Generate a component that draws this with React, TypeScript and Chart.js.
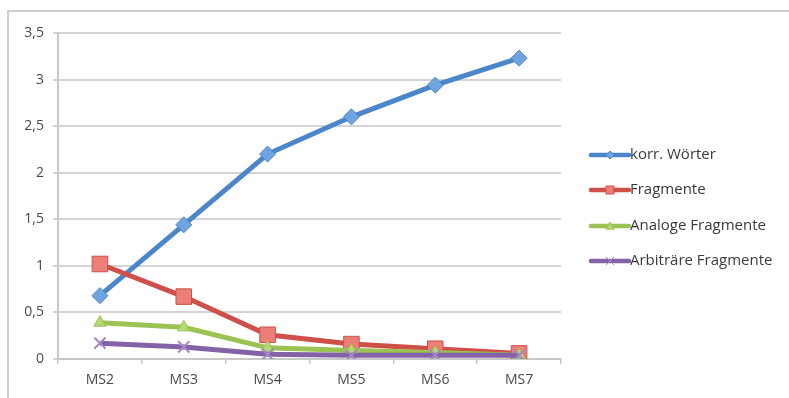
import React, { useEffect, useRef } from "react";
import { Chart, registerables } from "chart.js";

Chart.register(...registerables);

const categories = ["MS2", "MS3", "MS4", "MS5", "MS6", "MS7"];
const seriesNames = ["korr. Wörter", "Fragmente", "Analoge Fragmente", "Arbiträre Fragmente"];
const korrWoerter = [0.68, 1.44, 2.2, 2.6, 2.94, 3.23];
const fragmente = [1.02, 0.67, 0.26, 0.16, 0.11, 0.06];
const analogeFragmente = [0.39, 0.34, 0.12, 0.09, 0.07, 0.04];
const arbitraereFragmente = [0.17, 0.13, 0.05, 0.04, 0.04, 0.04];
const yTicks = [0, 0.5, 1, 1.5, 2, 2.5, 3, 3.5];

const colors = ["#4a86c9", "#cf5048", "#9bc252", "#8462a8"];
const pointStyles = ["rectRot", "rect", "triangle", "crossRot"] as const;
const pointRadii = [8, 11, 7, 8];
const fills = ["#6fa4e0", "#ec7e78", "#b4d873", "#a488c6"];

const FONT = "'Open Sans', Lato, 'Liberation Sans', sans-serif";

// Small marker shapes for the legend keys
function drawKey(ctx: CanvasRenderingContext2D, style: string, x: number, y: number, r: number) {
  ctx.beginPath();
  if (style === "rectRot") {
    ctx.moveTo(x, y - r);
    ctx.lineTo(x + r, y);
    ctx.lineTo(x, y + r);
    ctx.lineTo(x - r, y);
    ctx.closePath();
    ctx.fill();
    ctx.stroke();
  } else if (style === "rect") {
    ctx.rect(x - r, y - r, 2 * r, 2 * r);
    ctx.fill();
    ctx.stroke();
  } else if (style === "triangle") {
    ctx.moveTo(x, y - r);
    ctx.lineTo(x + r, y + r * 0.8);
    ctx.lineTo(x - r, y + r * 0.8);
    ctx.closePath();
    ctx.fill();
    ctx.stroke();
  } else {
    ctx.moveTo(x - r, y - r);
    ctx.lineTo(x + r, y + r);
    ctx.moveTo(x + r, y - r);
    ctx.lineTo(x - r, y + r);
    ctx.stroke();
  }
}

const legendPlugin = {
  id: "sideLegend",
  afterDraw(chart: any) {
    const ctx = chart.ctx as CanvasRenderingContext2D;
    const x0 = 591;
    const x1 = 629;
    const ys = [155, 190, 226, 261];
    ctx.save();
    chart.data.datasets.forEach((ds: any, i: number) => {
      const y = ys[i];
      ctx.strokeStyle = ds.borderColor;
      ctx.lineWidth = 4.5;
      ctx.lineCap = "round";
      ctx.beginPath();
      ctx.moveTo(x0, y);
      ctx.lineTo(x1, y);
      ctx.stroke();
      const style = ds.pointStyle;
      ctx.lineCap = "butt";
      ctx.fillStyle = ds.pointBackgroundColor;
      ctx.strokeStyle = ds.pointBorderColor;
      ctx.lineWidth = 1;
      drawKey(ctx, style, (x0 + x1) / 2, y, 4);
      ctx.fillStyle = "#3a3a3a";
      ctx.font = `15px ${FONT}`;
      ctx.textBaseline = "middle";
      ctx.textAlign = "left";
      ctx.fillText(ds.label, x1 + 1, y);
    });
    ctx.restore();
  },
};

const frame = {
  id: "frame",
  beforeDraw(chart: any) {
    const ctx = chart.ctx as CanvasRenderingContext2D;
    ctx.save();
    ctx.fillStyle = "#ffffff";
    ctx.fillRect(0, 0, chart.width, chart.height);
    ctx.strokeStyle = "#cfcfcf";
    ctx.lineWidth = 2;
    ctx.beginPath();
    ctx.moveTo(8, 398);
    ctx.lineTo(8, 11);
    ctx.lineTo(789, 11);
    ctx.stroke();
    ctx.restore();
  },
};

export default function App() {
  const ref = useRef<HTMLCanvasElement | null>(null);

  useEffect(() => {
    if (!ref.current) return;
    const seriesData = [korrWoerter, fragmente, analogeFragmente, arbitraereFragmente];
    const chart = new Chart(ref.current, {
      type: "line",
      data: {
        labels: categories,
        datasets: seriesData.map((d, i) => ({
          label: seriesNames[i],
          data: d,
          borderColor: colors[i],
          backgroundColor: fills[i],
          pointBackgroundColor: fills[i],
          pointBorderColor: i === 3 ? fills[i] : colors[i],
          pointBorderWidth: i === 3 ? 2 : 1,
          pointStyle: pointStyles[i],
          pointRadius: pointRadii[i],
          borderWidth: 5,
          tension: 0,
          order: 3 - i,
        })),
      },
      options: {
        animation: false,
        responsive: false,
        maintainAspectRatio: false,
        layout: { padding: { left: 0, right: 228, top: 33, bottom: 0 } },
        plugins: {
          legend: { display: false },
          tooltip: { enabled: false },
        },
        scales: {
          x: {
            offset: true,
            grid: {
              offset: true,
              drawOnChartArea: false,
              drawTicks: true,
              tickLength: 5,
              color: "#c8c8c8",
              lineWidth: 1.5,
            },
            border: { color: "#c8c8c8", width: 2 },
            ticks: {
              color: "#4a4a4a",
              font: { family: FONT, size: 14 },
              padding: 8,
            },
            afterFit(scale: any) {
              scale.height = 39;
            },
          },
          y: {
            min: 0,
            max: 3.5,
            afterBuildTicks(scale: any) {
              scale.ticks = yTicks.map((v) => ({ value: v }));
            },
            grid: {
              color: "#d4d4d4",
              lineWidth: 2,
              tickLength: 5,
              drawTicks: true,
            },
            border: { color: "#c8c8c8", width: 2 },
            ticks: {
              color: "#4a4a4a",
              font: { family: FONT, size: 14 },
              padding: 9,
              callback: (v: any) => String(v).replace(".", ","),
            },
            afterFit(scale: any) {
              scale.width = 58;
            },
          },
        },
      },
      plugins: [frame, legendPlugin],
    });
    return () => chart.destroy();
  }, []);

  return (
    <div style={{ position: "absolute", left: 0, top: 0, width: 789, height: 398 }}>
      <canvas ref={ref} width={789} height={398} style={{ display: "block" }} />
    </div>
  );
}
